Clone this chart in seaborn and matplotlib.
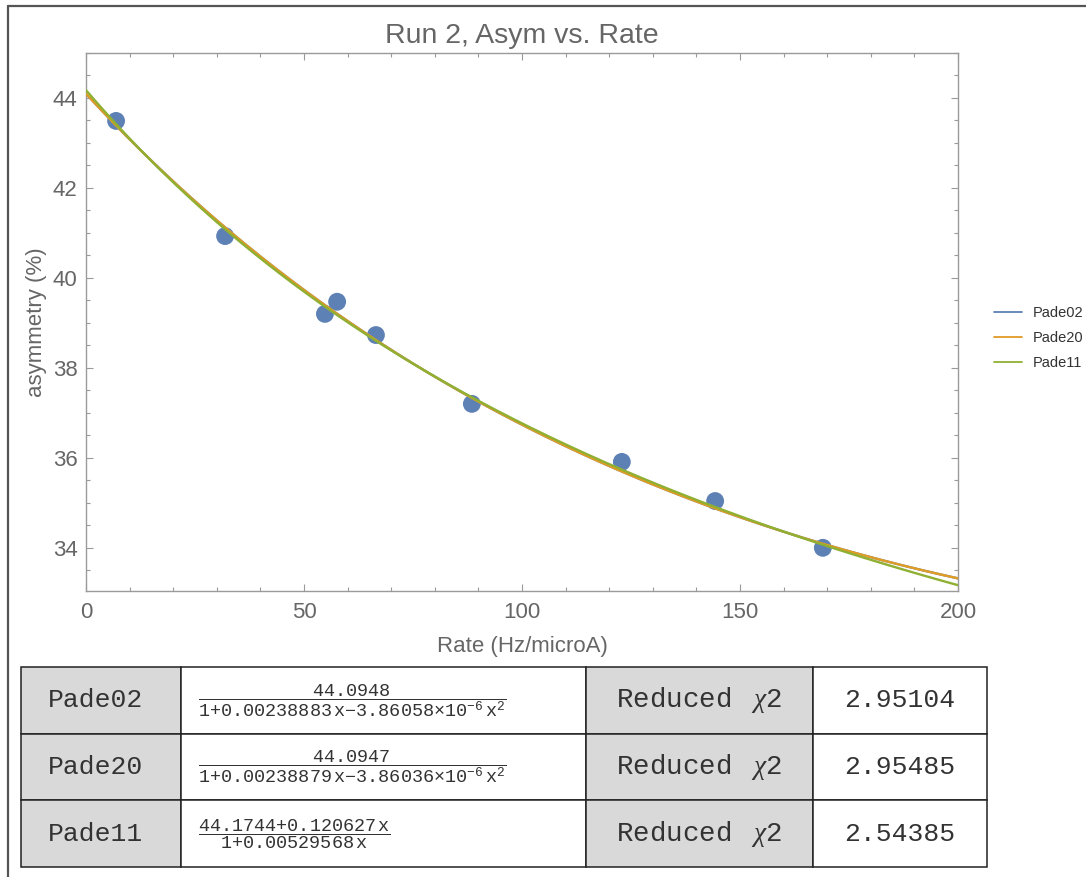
import numpy as np
import pandas as pd
import matplotlib
matplotlib.use("Agg")
import matplotlib.pyplot as plt
import seaborn as sns
from matplotlib.lines import Line2D
from matplotlib.ticker import MultipleLocator

# ---------------- data ----------------
rate = [6.9, 31.9, 54.8, 57.6, 66.5, 88.5, 122.9, 144.3, 169.0]
asym = [43.49, 40.93, 39.20, 39.47, 38.73, 37.20, 35.91, 35.04, 34.00]

fit_names = ["Pade02", "Pade20", "Pade11"]
pade02_num = [44.0948]
pade02_den = [1.0, 0.00238883, -3.86058e-6]
pade20_num = [44.0947]
pade20_den = [1.0, 0.00238879, -3.86036e-6]
pade11_num = [44.1744, 0.120627]
pade11_den = [1.0, 0.00529568]
chi2_values = ["2.95104", "2.95485", "2.54385"]
formula_texts = [
    r"$\dfrac{44.0948}{1{+}0.00238883\,\mathrm{x}{-}3.86058{\times}10^{-6}\,\mathrm{x}^{2}}$",
    r"$\dfrac{44.0947}{1{+}0.00238879\,\mathrm{x}{-}3.86036{\times}10^{-6}\,\mathrm{x}^{2}}$",
    r"$\dfrac{44.1744{+}0.120627\,\mathrm{x}}{1{+}0.00529568\,\mathrm{x}}$",
]
x_ticks = [0, 50, 100, 150, 200]
y_ticks = [34, 36, 38, 40, 42, 44]

colors = ["#5E81B5", "#E19C24", "#8FB032"]

# ---------------- style ----------------
sns.set_style("ticks")
plt.rcParams["font.family"] = ["Liberation Sans", "DejaVu Sans"]
plt.rcParams["mathtext.fontset"] = "custom"
plt.rcParams["mathtext.rm"] = "Liberation Mono"
plt.rcParams["mathtext.it"] = "Liberation Serif:italic"
plt.rcParams["mathtext.tt"] = "Liberation Mono"
plt.rcParams["mathtext.bf"] = "Liberation Mono:bold"

W, H = 1086, 877
fig = plt.figure(figsize=(W / 100, H / 100), dpi=100)
ax = fig.add_axes([86 / W, 1 - 591 / H, 872 / W, 538 / H])

# fitted curves
xs = np.linspace(0, 200, 401)
P = np.polynomial.polynomial
pairs = [(pade02_num, pade02_den), (pade20_num, pade20_den), (pade11_num, pade11_den)]
curves = pd.concat(
    [pd.DataFrame({"Rate": xs, "Asym": P.polyval(xs, n) / P.polyval(xs, d), "Fit": name})
     for name, (n, d) in zip(fit_names, pairs)],
    ignore_index=True,
)

sns.scatterplot(x=rate, y=asym, color=colors[0], s=165, edgecolor="none",
                ax=ax, zorder=2, legend=False)
sns.lineplot(data=curves, x="Rate", y="Asym", hue="Fit", hue_order=fit_names,
             palette=colors, linewidth=1.7, estimator=None, ax=ax, zorder=3)

ax.set_xlim(0, 200)
ax.set_ylim(33.04, 45.0)
ax.set_xticks(x_ticks)
ax.set_yticks(y_ticks)
ax.xaxis.set_minor_locator(MultipleLocator(10))
ax.yaxis.set_minor_locator(MultipleLocator(0.5))
gray = "#666666"
ax.tick_params(which="both", direction="in", top=True, right=True,
               color="#9a9a9a", width=0.8)
ax.tick_params(which="major", length=5, labelsize=16, labelcolor=gray, pad=6)
ax.tick_params(which="minor", length=3)
ax.tick_params(axis="x", which="major", pad=8)
ax.tick_params(top=True, right=True, labeltop=False, labelright=False)
for s in ax.spines.values():
    s.set_color("#9a9a9a")
    s.set_linewidth(1.0)

ax.set_title("Run 2, Asym vs. Rate", fontsize=20.5, color=gray, pad=7)
ax.set_xlabel("Rate (Hz/microA)", fontsize=16, color=gray, labelpad=9)
ax.set_ylabel("asymmetry (%)", fontsize=16, color=gray, labelpad=4)

leg = ax.legend(loc="center left", bbox_to_anchor=(1.035, 0.47), frameon=False,
                fontsize=10.5, handlelength=1.9, handletextpad=0.7,
                labelspacing=0.75, borderaxespad=0)
for t in leg.get_texts():
    t.set_color("#333333")
for h in leg.legend_handles:
    h.set_linewidth(1.3)

# ---------------- table ----------------
tax = fig.add_axes([21 / W, 1 - 867 / H, 966 / W, 200 / H])
tax.axis("off")
col_px = [160, 405, 227, 174]
col_w = [c / sum(col_px) for c in col_px]
cell_text = [[n, f, r"Reduced $\;\chi$2", c] for n, f, c in zip(fit_names, formula_texts, chi2_values)]
cell_col = [["#D9D9D9", "white", "#D9D9D9", "white"] for _ in fit_names]
tbl = tax.table(cellText=cell_text, cellColours=cell_col, colWidths=col_w,
                cellLoc="center", bbox=[0, 0, 1, 1])
tbl.auto_set_font_size(False)
for (r, c), cell in tbl.get_celld().items():
    cell.set_edgecolor("#222222")
    cell.set_linewidth(1.1)
    t = cell.get_text()
    t.set_fontfamily("Liberation Mono")
    t.set_color("#333333")
    t.set_fontsize(19)
    if c == 0:
        cell._loc = "left"
        cell.PAD = 0.165
        t.set_horizontalalignment("left")
    if c == 1:
        t.set_fontsize(13.3)
        cell._loc = "left"
        cell.PAD = 0.042
        t.set_horizontalalignment("left")
    if c == 2:
        t.set_fontsize(19.8)

# figure border lines
fig.add_artist(Line2D([7.5 / W, 1.0], [1 - 5.5 / H, 1 - 5.5 / H], color="#555555", lw=1.6))
fig.add_artist(Line2D([7.5 / W, 7.5 / W], [0.0, 1 - 5.5 / H], color="#555555", lw=1.6))

fig.savefig("out.png", dpi=100)
